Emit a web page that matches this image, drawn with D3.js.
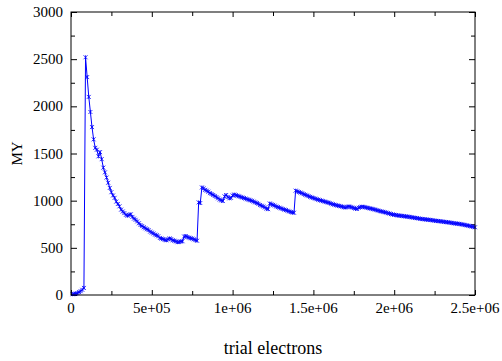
<!DOCTYPE html>
<html>
<head>
<meta charset="utf-8">
<script src="https://cdn.jsdelivr.net/npm/d3@7"></script>
<style>
  html, body { margin: 0; padding: 0; background: #fff; }
  svg { display: block; }
  text { font-family: "Liberation Serif", "Times New Roman", serif; fill: #000; }
</style>
</head>
<body>
<svg id="chart" width="502" height="361"></svg>
<script>
// Trial counts, sampled every 10 000 electrons
const step = 10000;
const trials = d3.range(1, 251).map(k => k * step);

// MY estimate after each batch of trials
const myValues = [
  8, 12, 15, 20, 30, 40, 55, 75, 2520, 2310,
  2100, 1940, 1780, 1650, 1560, 1540, 1470, 1515, 1440, 1350,
  1300, 1245, 1190, 1135, 1090, 1055, 1030, 990, 965, 940,
  905, 885, 868, 850, 840, 850, 855, 828, 810, 797,
  780, 760, 742, 730, 718, 707, 697, 688, 672, 662,
  652, 640, 633, 622, 605, 598, 592, 585, 580, 590,
  600, 592, 580, 575, 568, 560, 562, 568, 570, 620,
  625, 615, 608, 602, 598, 590, 582, 575, 982, 975,
  1140, 1130, 1115, 1106, 1095, 1080, 1071, 1060, 1050, 1038,
  1025, 1012, 1003, 996, 1045, 1060, 1040, 1025, 1030, 1055,
  1065, 1058, 1052, 1046, 1040, 1034, 1028, 1022, 1015, 1010,
  1004, 998, 990, 982, 975, 966, 954, 946, 938, 928,
  915, 910, 970, 962, 955, 948, 938, 932, 925, 918,
  912, 905, 900, 893, 886, 880, 875, 872, 1106, 1098,
  1092, 1085, 1078, 1070, 1062, 1055, 1048, 1040, 1034, 1028,
  1022, 1016, 1010, 1005, 1000, 995, 990, 985, 980, 975,
  968, 962, 957, 952, 948, 944, 940, 935, 930, 928,
  935, 938, 934, 928, 922, 916, 912, 925, 932, 936,
  934, 930, 926, 922, 918, 914, 910, 906, 900, 896,
  890, 886, 882, 878, 874, 868, 864, 858, 854, 850,
  848, 844, 842, 840, 838, 835, 833, 831, 829, 826,
  823, 820, 817, 815, 812, 808, 806, 804, 802, 800,
  798, 796, 794, 791, 788, 786, 784, 782, 780, 778,
  775, 773, 771, 769, 766, 763, 760, 758, 756, 754,
  751, 748, 745, 741, 738, 734, 730, 726, 722, 718
];

const xMajorTicks = [0, 500000, 1000000, 1500000, 2000000, 2500000];
const xTickLabels = ["0", "5e+05", "1e+06", "1.5e+06", "2e+06", "2.5e+06"];
const yMajorTicks = [0, 500, 1000, 1500, 2000, 2500, 3000];

const data = trials.map((t, i) => ({ x: t, y: myValues[i] }));

const svg = d3.select("#chart");
const margin = { left: 71, top: 12, right: 27, bottom: 66 };
const W = 502, H = 361;
const x0 = margin.left, x1 = W - margin.right;
const y0 = H - margin.bottom, y1 = margin.top;

const x = d3.scaleLinear().domain([0, 2500000]).range([x0, x1]);
const y = d3.scaleLinear().domain([0, 3000]).range([y0, y1]);

const xMinor = d3.range(0, 2500001, 250000).filter(v => !xMajorTicks.includes(v));
const yMinor = d3.range(0, 3001, 250).filter(v => !yMajorTicks.includes(v));

// Inward ticks on all four sides
function inwardAxis(axisFn, scale, values, size, transform) {
  svg.append("g")
    .attr("transform", transform)
    .call(axisFn(scale).tickValues(values).tickSize(size).tickFormat(""))
    .call(g => g.select(".domain").remove())
    .call(g => g.selectAll("line").attr("stroke", "#000").attr("stroke-width", 1));
}
inwardAxis(d3.axisTop, x, xMajorTicks, 5, `translate(0,${y0})`);
inwardAxis(d3.axisTop, x, xMinor, 4, `translate(0,${y0})`);
inwardAxis(d3.axisBottom, x, xMajorTicks, 5, `translate(0,${y1})`);
inwardAxis(d3.axisBottom, x, xMinor, 4, `translate(0,${y1})`);
inwardAxis(d3.axisRight, y, yMajorTicks, 6, `translate(${x0},0)`);
inwardAxis(d3.axisRight, y, yMinor, 4, `translate(${x0},0)`);
inwardAxis(d3.axisLeft, y, yMajorTicks, 6, `translate(${x1},0)`);
inwardAxis(d3.axisLeft, y, yMinor, 4, `translate(${x1},0)`);

// Tick labels
svg.append("g").selectAll("text").data(xMajorTicks).join("text")
  .attr("x", d => x(d)).attr("y", y0 + 18)
  .attr("text-anchor", "middle").attr("font-size", 15)
  .text((d, i) => xTickLabels[i]);

svg.append("g").selectAll("text").data(yMajorTicks).join("text")
  .attr("x", x0 - 8).attr("y", d => y(d) + 5)
  .attr("text-anchor", "end").attr("font-size", 15)
  .text(d => d);

// Axis titles
svg.append("text")
  .attr("x", (x0 + x1) / 2).attr("y", 354)
  .attr("text-anchor", "middle").attr("font-size", 18)
  .text("trial electrons");

svg.append("text")
  .attr("transform", `translate(22,${(y0 + y1) / 2}) rotate(-90)`)
  .attr("text-anchor", "middle").attr("font-size", 15)
  .text("MY");

// Data line
const line = d3.line().x(d => x(d.x)).y(d => y(d.y));
svg.append("path").datum(data)
  .attr("d", line)
  .attr("fill", "none").attr("stroke", "#0000ff").attr("stroke-width", 1);

// Cross markers at every sample
const m = 2;
svg.append("g").selectAll("path").data(data).join("path")
  .attr("d", d => {
    const px = x(d.x), py = y(d.y);
    return `M${px - m},${py - m}L${px + m},${py + m}M${px - m},${py + m}L${px + m},${py - m}M${px},${py - m}L${px},${py + m}`;
  })
  .attr("stroke", "#0000ff").attr("stroke-width", 0.8).attr("fill", "none");

// Plot frame
svg.append("rect")
  .attr("x", x0).attr("y", y1).attr("width", x1 - x0).attr("height", y0 - y1)
  .attr("fill", "none").attr("stroke", "#000").attr("stroke-width", 1);
</script>
</body>
</html>
